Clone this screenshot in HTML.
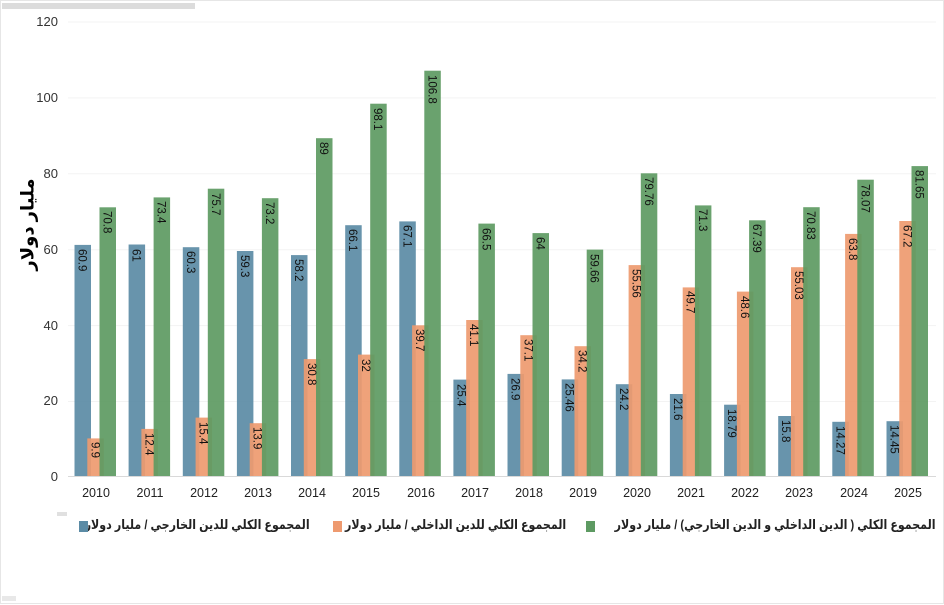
<!DOCTYPE html>
<html><head><meta charset="utf-8"><style>
body{margin:0;background:#fff;}
#w{position:relative;width:944px;height:605px;overflow:hidden;}
svg{display:block;font-family:"Liberation Sans","DejaVu Sans",sans-serif;}
.lg{position:absolute;top:517px;font:bold 13px "Liberation Sans","DejaVu Sans",sans-serif;color:#222;direction:rtl;white-space:nowrap;text-align:right;transform:scaleX(0.85);transform-origin:right center;}
.bx{position:absolute;top:521px;width:9px;height:11px;}
.yl{position:absolute;left:-22px;top:214px;width:100px;text-align:center;font:bold 18px "Liberation Sans","DejaVu Sans",sans-serif;transform:rotate(-90deg);direction:rtl;white-space:nowrap;}
</style></head><body><div id="w">
<svg width="944" height="605" viewBox="0 0 944 605" xmlns="http://www.w3.org/2000/svg">
<rect x="0.5" y="0.5" width="943" height="603" fill="#fff" stroke="#e6e6e6"/>
<rect x="2" y="3" width="193" height="6" fill="#dcdcdc"/>
<rect x="57" y="512" width="10" height="4" fill="#e0e0e0"/>
<rect x="2" y="596" width="14" height="5" fill="#e8e8e8"/>
<g stroke="#f3f3f3">
<line x1="68" x2="936" y1="22" y2="22"/><line x1="68" x2="936" y1="97.9" y2="97.9"/>
<line x1="68" x2="936" y1="173.8" y2="173.8"/><line x1="68" x2="936" y1="249.7" y2="249.7"/>
<line x1="68" x2="936" y1="325.6" y2="325.6"/><line x1="68" x2="936" y1="401.5" y2="401.5"/>
</g>
<line x1="68" x2="936" y1="476.5" y2="476.5" stroke="#d9d9d9"/>
<g font-size="13" fill="#333" text-anchor="end">
<text x="58" y="481">0</text><text x="58" y="405">20</text><text x="58" y="330">40</text>
<text x="58" y="254">60</text><text x="58" y="178">80</text><text x="58" y="102">100</text><text x="58" y="26">120</text>
</g>
<g fill-opacity="0.92">
<g fill="#5b8ba5">
<rect x="74.5" y="244.9" width="16.5" height="231.1"/>
<rect x="128.6" y="244.5" width="16.5" height="231.5"/>
<rect x="182.8" y="247.2" width="16.5" height="228.8"/>
<rect x="236.9" y="251.0" width="16.5" height="225.0"/>
<rect x="291.0" y="255.1" width="16.5" height="220.9"/>
<rect x="345.2" y="225.2" width="16.5" height="250.8"/>
<rect x="399.3" y="221.4" width="16.5" height="254.6"/>
<rect x="453.4" y="379.6" width="16.5" height="96.4"/>
<rect x="507.5" y="373.9" width="16.5" height="102.1"/>
<rect x="561.7" y="379.4" width="16.5" height="96.6"/>
<rect x="615.8" y="384.2" width="16.5" height="91.8"/>
<rect x="669.9" y="394.0" width="16.5" height="82.0"/>
<rect x="724.1" y="404.7" width="16.5" height="71.3"/>
<rect x="778.2" y="416.0" width="16.5" height="60.0"/>
<rect x="832.3" y="421.8" width="16.5" height="54.2"/>
<rect x="886.5" y="421.2" width="16.5" height="54.8"/>
</g>
<g fill="#ee9a6f">
<rect x="87.3" y="438.4" width="16.5" height="37.6"/>
<rect x="141.4" y="428.9" width="16.5" height="47.1"/>
<rect x="195.6" y="417.6" width="16.5" height="58.4"/>
<rect x="249.7" y="423.2" width="16.5" height="52.8"/>
<rect x="303.8" y="359.1" width="16.5" height="116.9"/>
<rect x="358.0" y="354.6" width="16.5" height="121.4"/>
<rect x="412.1" y="325.3" width="16.5" height="150.7"/>
<rect x="466.2" y="320.0" width="16.5" height="156.0"/>
<rect x="520.3" y="335.2" width="16.5" height="140.8"/>
<rect x="574.5" y="346.2" width="16.5" height="129.8"/>
<rect x="628.6" y="265.1" width="16.5" height="210.9"/>
<rect x="682.7" y="287.4" width="16.5" height="188.6"/>
<rect x="736.9" y="291.6" width="16.5" height="184.4"/>
<rect x="791.0" y="267.2" width="16.5" height="208.8"/>
<rect x="845.1" y="233.9" width="16.5" height="242.1"/>
<rect x="899.3" y="221.0" width="16.5" height="255.0"/>
</g>
<g fill="#5d9a62">
<rect x="99.5" y="207.3" width="16.5" height="268.7"/>
<rect x="153.6" y="197.4" width="16.5" height="278.6"/>
<rect x="207.8" y="188.7" width="16.5" height="287.3"/>
<rect x="261.9" y="198.2" width="16.5" height="277.8"/>
<rect x="316.0" y="138.2" width="16.5" height="337.8"/>
<rect x="370.2" y="103.7" width="16.5" height="372.3"/>
<rect x="424.3" y="70.7" width="16.5" height="405.3"/>
<rect x="478.4" y="223.6" width="16.5" height="252.4"/>
<rect x="532.5" y="233.1" width="16.5" height="242.9"/>
<rect x="586.7" y="249.6" width="16.5" height="226.4"/>
<rect x="640.8" y="173.3" width="16.5" height="302.7"/>
<rect x="694.9" y="205.4" width="16.5" height="270.6"/>
<rect x="749.1" y="220.3" width="16.5" height="255.7"/>
<rect x="803.2" y="207.2" width="16.5" height="268.8"/>
<rect x="857.3" y="179.7" width="16.5" height="296.3"/>
<rect x="911.5" y="166.1" width="16.5" height="309.9"/>
</g>
</g>
<g font-size="11.5" fill="#111">
<text transform="translate(78.5,249) rotate(90)">60.9</text>
<text transform="translate(132.6,249) rotate(90)">61</text>
<text transform="translate(186.8,251) rotate(90)">60.3</text>
<text transform="translate(240.9,255) rotate(90)">59.3</text>
<text transform="translate(295.0,259) rotate(90)">58.2</text>
<text transform="translate(349.2,229) rotate(90)">66.1</text>
<text transform="translate(403.3,225) rotate(90)">67.1</text>
<text transform="translate(457.4,384) rotate(90)">25.4</text>
<text transform="translate(511.5,378) rotate(90)">26.9</text>
<text transform="translate(565.7,383) rotate(90)">25.46</text>
<text transform="translate(619.8,388) rotate(90)">24.2</text>
<text transform="translate(673.9,398) rotate(90)">21.6</text>
<text transform="translate(728.1,409) rotate(90)">18.79</text>
<text transform="translate(782.2,420) rotate(90)">15.8</text>
<text transform="translate(836.3,426) rotate(90)">14.27</text>
<text transform="translate(890.5,425) rotate(90)">14.45</text>

<text transform="translate(91.3,442) rotate(90)">9.9</text>
<text transform="translate(145.4,433) rotate(90)">12.4</text>
<text transform="translate(199.6,422) rotate(90)">15.4</text>
<text transform="translate(253.7,427) rotate(90)">13.9</text>
<text transform="translate(307.8,363) rotate(90)">30.8</text>
<text transform="translate(362.0,359) rotate(90)">32</text>
<text transform="translate(416.1,329) rotate(90)">39.7</text>
<text transform="translate(470.2,324) rotate(90)">41.1</text>
<text transform="translate(524.3,339) rotate(90)">37.1</text>
<text transform="translate(578.5,350) rotate(90)">34.2</text>
<text transform="translate(632.6,269) rotate(90)">55.56</text>
<text transform="translate(686.7,291) rotate(90)">49.7</text>
<text transform="translate(740.9,296) rotate(90)">48.6</text>
<text transform="translate(795.0,271) rotate(90)">55.03</text>
<text transform="translate(849.1,238) rotate(90)">63.8</text>
<text transform="translate(903.3,225) rotate(90)">67.2</text>

<text transform="translate(103.5,211) rotate(90)">70.8</text>
<text transform="translate(157.6,201) rotate(90)">73.4</text>
<text transform="translate(211.8,193) rotate(90)">75.7</text>
<text transform="translate(265.9,202) rotate(90)">73.2</text>
<text transform="translate(320.0,142) rotate(90)">89</text>
<text transform="translate(374.2,108) rotate(90)">98.1</text>
<text transform="translate(428.3,75) rotate(90)">106.8</text>
<text transform="translate(482.4,228) rotate(90)">66.5</text>
<text transform="translate(536.5,237) rotate(90)">64</text>
<text transform="translate(590.7,254) rotate(90)">59.66</text>
<text transform="translate(644.8,177) rotate(90)">79.76</text>
<text transform="translate(698.9,209) rotate(90)">71.3</text>
<text transform="translate(753.1,224) rotate(90)">67.39</text>
<text transform="translate(807.2,211) rotate(90)">70.83</text>
<text transform="translate(861.3,184) rotate(90)">78.07</text>
<text transform="translate(915.5,170) rotate(90)">81.65</text>
</g>
<g font-size="12.5" fill="#222" text-anchor="middle">
<text x="96" y="497">2010</text><text x="150" y="497">2011</text><text x="204" y="497">2012</text><text x="258" y="497">2013</text>
<text x="312" y="497">2014</text><text x="366" y="497">2015</text><text x="421" y="497">2016</text><text x="475" y="497">2017</text>
<text x="529" y="497">2018</text><text x="583" y="497">2019</text><text x="637" y="497">2020</text><text x="691" y="497">2021</text>
<text x="745" y="497">2022</text><text x="799" y="497">2023</text><text x="854" y="497">2024</text><text x="908" y="497">2025</text>
</g>
</svg>
<div class="yl">مليار دولار</div>
<div class="lg" style="right:8px;">المجموع الكلي ( الدين الداخلي و الدين الخارجي) / مليار دولار</div>
<div class="bx" style="left:586px;background:#5d9a62"></div>
<div class="lg" style="right:378px;">المجموع الكلي للدين الداخلي  / مليار دولار</div>
<div class="bx" style="left:333px;background:#ee9a6f"></div>
<div class="lg" style="right:634px;">المجموع الكلي للدين الخارجي  / مليار دولار</div>
<div class="bx" style="left:79px;background:#5b8ba5"></div>
</div></body></html>
